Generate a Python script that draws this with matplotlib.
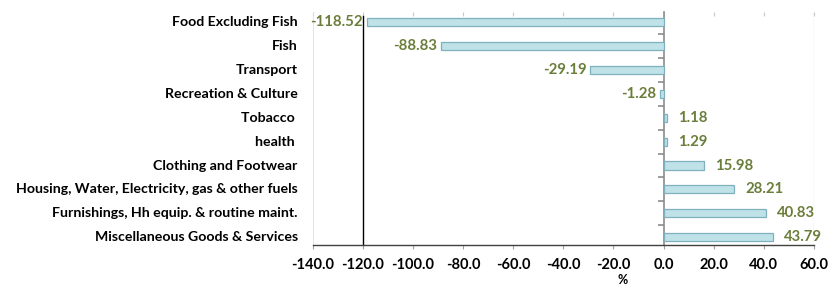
import matplotlib
matplotlib.use("Agg")
import matplotlib.pyplot as plt
from matplotlib.ticker import FixedLocator, FuncFormatter
import matplotlib.transforms as mtransforms

categories = ["Food Excluding Fish", "Fish", "Transport", "Recreation & Culture",
              "Tobacco ", "health ", "Clothing and Footwear",
              "Housing, Water, Electricity, gas & other fuels",
              "Furnishings, Hh equip. & routine maint.",
              "Miscellaneous Goods & Services"]
values = [-118.52, -88.83, -29.19, -1.28, 1.18, 1.29, 15.98, 28.21, 40.83, 43.79]
xticks = [-140, -120, -100, -80, -60, -40, -20, 0, 20, 40, 60]

plt.rcParams['font.family'] = ['Lato', 'DejaVu Sans']
plt.rcParams['font.weight'] = 'bold'

fig = plt.figure(figsize=(8.34, 2.87), dpi=100)
ax = fig.add_axes([0.375, 0.146, 0.601, 0.812])

ypos = list(range(len(categories)))
ax.barh(ypos, values, height=0.34, color='#bfe2e8', edgecolor='#7fb1bd', linewidth=0.9, zorder=3)

ax.set_xlim(-140, 60)
ax.set_ylim(9.33, -0.42)

# axes styling
for s in ['top', 'right']:
    ax.spines[s].set_visible(False)
ax.spines['left'].set_position(('data', 0))
ax.spines['left'].set_color('#8c8c8c')
ax.spines['left'].set_linewidth(1.2)
ax.spines['bottom'].set_color('#404040')
ax.spines['bottom'].set_linewidth(1.0)

ax.yaxis.set_major_locator(FixedLocator(ypos))
ax.yaxis.set_minor_locator(FixedLocator([y + 0.5 for y in ypos[:-1]]))
ax.tick_params(axis='y', which='major', length=0, labelleft=False)
ax.tick_params(axis='y', which='minor', length=4, direction='out', color='#8c8c8c', width=1.2)

ax.set_xticks(xticks)
ax.xaxis.set_major_formatter(FuncFormatter(lambda v, p: f"{v:.1f}"))
ax.tick_params(axis='x', length=3, direction='out', color='#a0a0a0', labelsize=10.5, pad=6)
for lab in ax.get_xticklabels():
    lab.set_fontweight('bold')

# top faint ticks
sec = ax.secondary_xaxis('top')
sec.set_xticks(xticks)
sec.tick_params(length=3, direction='in', color='#c8c8c8', labeltop=False)
sec.spines['top'].set_visible(False)

# left faint frame line and right faint line
ax.axvline(-140, color='#d5e3e6', linewidth=1.2, zorder=1)
ax.axvline(60, color='#d5e8ec', linewidth=1.0, zorder=1)
# black vertical line at -120
ax.axvline(-120, ymin=0, ymax=0.985, color='black', linewidth=1.0, zorder=2)

# category labels
trans = mtransforms.blended_transform_factory(ax.transAxes, ax.transData)
for y, c in zip(ypos, categories):
    ax.text(-0.03, y, c, transform=trans, ha='right', va='center',
            fontsize=10.2, fontweight='bold', color='black')

# value labels
for y, v in zip(ypos, values):
    if v < 0:
        ax.annotate(f"{v:.2f}", (v, y), xytext=(-3, 0), textcoords='offset points',
                    ha='right', va='center', fontsize=10.7, fontweight='bold', color='#6a7d3a')
    else:
        ax.annotate(f"{v:.2f}", (v, y), xytext=(8, 0), textcoords='offset points',
                    ha='left', va='center', fontsize=10.7, fontweight='bold', color='#6a7d3a')

ax.text(-16.5, -0.148, "%", transform=mtransforms.blended_transform_factory(ax.transData, ax.transAxes),
        ha='center', va='center', fontsize=9, fontweight='bold')

fig.savefig("out.png", dpi=100)
